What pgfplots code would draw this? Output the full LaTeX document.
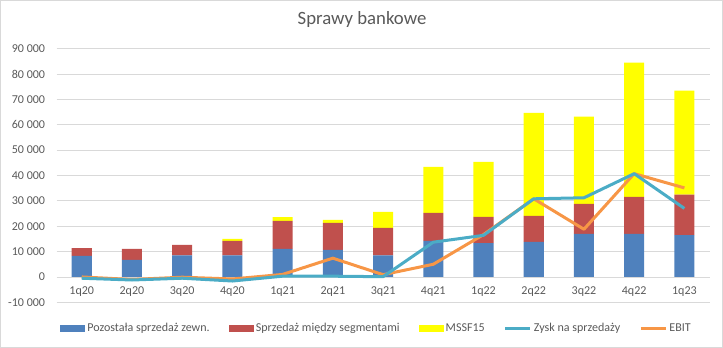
\documentclass[border=0pt]{standalone}
\usepackage{pgfplots}
\pgfplotsset{compat=1.18}
\usepackage{fontspec}
\setmainfont{Carlito}
\definecolor{cblue}{HTML}{4F81BD}
\definecolor{cred}{HTML}{C0504D}
\definecolor{cyellow}{HTML}{FFFF00}
\definecolor{cteal}{HTML}{4BACC6}
\definecolor{corange}{HTML}{F79646}
\definecolor{ctext}{HTML}{595959}
\definecolor{cgrid}{HTML}{D9D9D9}
\begin{document}
\begin{tikzpicture}
\begin{axis}[
  set layers,
  scale only axis,
  width=651bp, height=253bp,
  xmin=-0.5, xmax=12.5,
  ymin=-10000, ymax=90000,
  ybar stacked,
  bar width=20bp,
  scaled y ticks=false,
  xtick={0,...,12},
  xticklabels={1q20,2q20,3q20,4q20,1q21,2q21,3q21,4q21,1q22,2q22,3q22,4q22,1q23},
  ytick={-10000,0,10000,20000,30000,40000,50000,60000,70000,80000,90000},
  yticklabels={-10 000,0,10 000,20 000,30 000,40 000,50 000,60 000,70 000,80 000,90 000},
  ymajorgrids,
  grid style={cgrid, line width=0.9bp},
  axis line style={draw=none},
  major tick length=0pt,
  tick label style={font=\fontsize{12bp}{14bp}\selectfont, text=ctext},
  x tick label style={anchor=center, yshift=11bp},
  y tick label style={anchor=east, xshift=-8bp},
  legend columns=5,
  legend style={at={(0.49,-0.103)}, anchor=center, draw=none, fill=none,
    font=\fontsize{12bp}{14bp}\selectfont, text=ctext,
    /tikz/every even column/.append style={column sep=17bp},
    nodes={inner xsep=2bp}},
]
\addplot[fill=cblue, draw=none, legend image code/.code={\fill[cblue] (0bp,-3.5bp) rectangle (25bp,3.5bp);}]
  coordinates {(0,8300) (1,6700) (2,8550) (3,8550) (4,11050) (5,10650) (6,8550) (7,14200) (8,13300) (9,13800) (10,17000) (11,17000) (12,16450)};
\addlegendentry{Pozostała sprzedaż zewn.}
\addplot[fill=cred, draw=none, legend image code/.code={\fill[cred] (0bp,-3.5bp) rectangle (25bp,3.5bp);}]
  coordinates {(0,3100) (1,4350) (2,4050) (3,5650) (4,11050) (5,10650) (6,10800) (7,11050) (8,10400) (9,10300) (10,11800) (11,14600) (12,15950)};
\addlegendentry{Sprzedaż między segmentami}
\addplot[fill=cyellow, draw=none, legend image code/.code={\fill[cyellow] (0bp,-3.5bp) rectangle (25bp,3.5bp);}]
  coordinates {(0,0) (1,0) (2,0) (3,800) (4,1450) (5,1200) (6,6300) (7,18150) (8,21700) (9,40600) (10,34400) (11,52900) (12,41000)};
\addlegendentry{MSSF15}
\addplot[sharp plot, stack plots=false, on layer=axis foreground, cteal, line width=3bp, line join=round, mark=none,
  legend image code/.code={\draw[cteal, line width=3bp] (0bp,0bp) -- (25bp,0bp);}]
  coordinates {(0,-500) (1,-1200) (2,-500) (3,-1600) (4,300) (5,300) (6,100) (7,13700) (8,16400) (9,30800) (10,31200) (11,40700) (12,27000)};
\addlegendentry{Zysk na sprzedaży}
\addplot[sharp plot, stack plots=false, on layer=axis foreground, corange, line width=3bp, line join=round, mark=none,
  legend image code/.code={\draw[corange, line width=3bp] (0bp,0bp) -- (25bp,0bp);}]
  coordinates {(0,0) (1,-1000) (2,-100) (3,-800) (4,1000) (5,7400) (6,900) (7,5000) (8,16700) (9,30800) (10,18800) (11,40700) (12,35100)};
\addlegendentry{EBIT}
\end{axis}
\node[font=\fontsize{18.7bp}{22bp}\selectfont, text=ctext] at ([xshift=-21bp, yshift=29bp]current axis.north) {Sprawy bankowe};
\draw[cgrid, line width=0.9bp] ([xshift=-56bp, yshift=-45bp]current axis.south west) rectangle ([xshift=13bp, yshift=48bp]current axis.north east);
\end{tikzpicture}
\end{document}
